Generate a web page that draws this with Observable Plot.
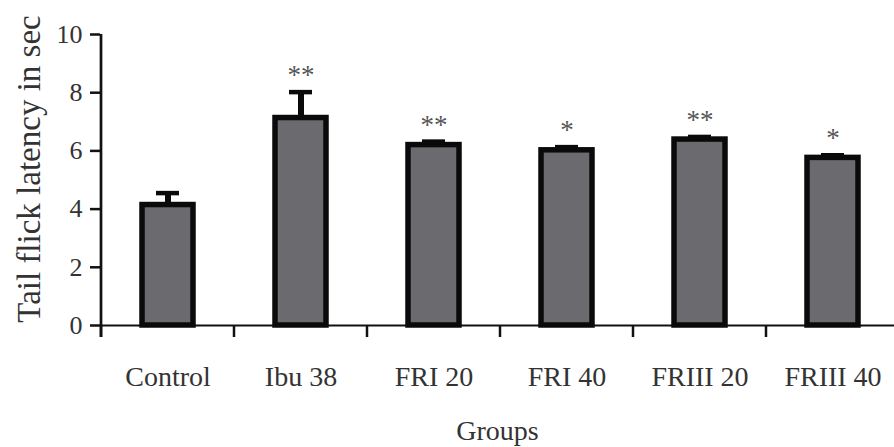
<!DOCTYPE html>
<html><head><meta charset="utf-8">
<script src="https://cdn.jsdelivr.net/npm/d3@7"></script>
<script src="https://cdn.jsdelivr.net/npm/@observablehq/plot@0.6"></script>
<style>html,body{margin:0;padding:0;background:#fff;overflow:hidden}</style>
</head><body><div id="chart"></div>
<script>
const groups = ["Control", "Ibu 38", "FRI 20", "FRI 40", "FRIII 20", "FRIII 40"];
const latency = [4.14, 7.13, 6.20, 6.02, 6.39, 5.76];
const sem = [0.41, 0.89, 0.12, 0.11, 0.09, 0.09];
const significance = ["", "**", "**", "*", "**", "*"];
const yTicks = [0, 2, 4, 6, 8, 10];
const yLabel = "Tail flick latency in sec";
const xLabel = "Groups";

const data = groups.map((g, i) => ({group: g, value: latency[i], err: sem[i], sig: significance[i]}));
const PAD = 0.62;

function val(v) { return typeof v === "function" ? v() : v; }

// axis lines + category boundary ticks, positioned from the scales
function axisLines(index, scales, values, dims) {
  const {x, y} = scales;
  const step = x(groups[1]) - x(groups[0]);
  const bw = val(x.bandwidth) ?? step * (1 - PAD);
  const off = (step - bw) / 2;
  const y0 = y(0);
  const g = d3.create("svg:g").attr("stroke", "#111").attr("fill", "none");
  const xs = groups.map(d => x(d) - off).concat([x(groups[groups.length - 1]) + bw + off]);
  g.selectAll("line.b").data(xs).join("line").attr("class", "b")
    .attr("x1", d => d).attr("x2", d => d).attr("y1", y0).attr("y2", y0 + 12)
    .attr("stroke-width", 2.5);
  g.append("line")
    .attr("x1", xs[0]).attr("x2", xs[0])
    .attr("y1", y(d3.max(yTicks))).attr("y2", y0 + 12)
    .attr("stroke-width", 2.7);
  return g.node();
}

const chart = Plot.plot({
  width: 894,
  height: 447,
  marginTop: 34,
  marginBottom: 122,
  marginLeft: 100,
  marginRight: 0,
  style: {fontFamily: "'Liberation Serif', serif", color: "#333", background: "white"},
  x: {domain: groups, range: [100, 900], paddingInner: PAD, paddingOuter: PAD / 2, label: null},
  y: {domain: [0, 10], label: null},
  marks: [
    Plot.axisY(yTicks, {tickSize: 10, tickPadding: 8, fontSize: 26, strokeWidth: 2.5, stroke: "#111", fill: "#333", label: null}),
    Plot.axisX({tickSize: 0, tickPadding: 41, fontSize: 28, fill: "#333", label: null}),
    Plot.ruleY([0], {stroke: "#111", strokeWidth: 2}),
    axisLines,
    Plot.barY(data, {x: "group", y: "value", fill: "#6b6b6f", stroke: "#0a0a0a", strokeWidth: 5.5}),
    Plot.ruleX(data, {x: "group", y1: "value", y2: d => d.value + d.err, stroke: "#0a0a0a", strokeWidth: 6}),
    Plot.tickY(data, {x: "group", y: d => d.value + d.err, stroke: "#0a0a0a", strokeWidth: 4.5, insetLeft: 14, insetRight: 14}),
    Plot.text(data, {x: "group", y: d => d.value + d.err, text: "sig", dy: -8, lineAnchor: "bottom", fontSize: 27, fill: "#555"}),
    Plot.text([yLabel], {frameAnchor: "left", textAnchor: "middle", rotate: -90, dx: -71, dy: -11, fontSize: 33, fill: "#333"}),
    Plot.text([xLabel], {frameAnchor: "bottom", dy: 114, lineAnchor: "bottom", fontSize: 28, fill: "#333"})
  ]
});
document.getElementById("chart").appendChild(chart);
</script>
</body></html>
